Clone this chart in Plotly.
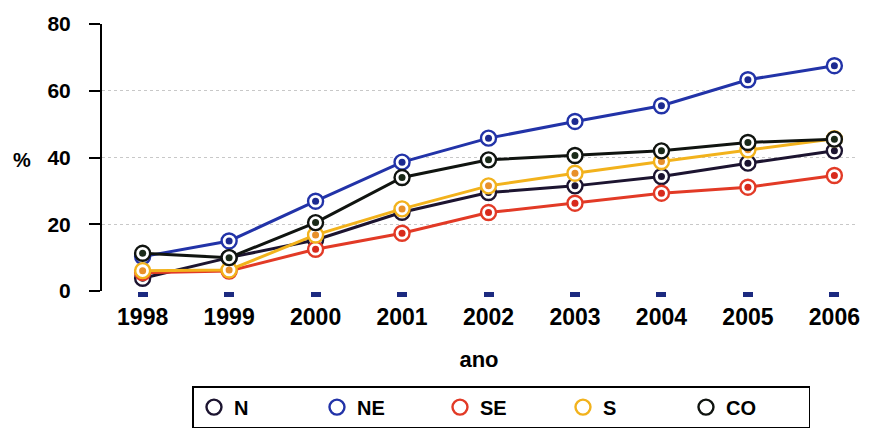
import plotly.graph_objects as go

anos = ["1998", "1999", "2000", "2001", "2002", "2003", "2004", "2005", "2006"]
serie_N = [3.8, 10.0, 15.3, 23.6, 29.5, 31.5, 34.3, 38.3, 42.0]
serie_NE = [10.3, 15.0, 26.9, 38.6, 45.8, 50.8, 55.5, 63.3, 67.5]
serie_SE = [5.5, 6.0, 12.5, 17.3, 23.5, 26.3, 29.3, 31.1, 34.6]
serie_S = [6.1, 6.3, 16.8, 24.6, 31.5, 35.3, 38.8, 42.3, 45.6]
serie_CO = [11.3, 10.0, 20.5, 34.0, 39.3, 40.6, 42.0, 44.5, 45.5]
y_ticks = [0, 20, 40, 60, 80]

series = [
    ("N", serie_N, "#1c1430", "#1c1430"),
    ("NE", serie_NE, "#2233a8", "#1c2a90"),
    ("SE", serie_SE, "#e23a26", "#d82a1c"),
    ("S", serie_S, "#f2b21c", "#e8902a"),
    ("CO", serie_CO, "#101410", "#1a2a18"),
]

FONT = "Arial, Liberation Sans, sans-serif"
fig = go.Figure()

for name, vals, lc, dc in series:
    fig.add_trace(go.Scatter(
        x=anos, y=vals, mode="lines", line=dict(color=lc, width=3),
        showlegend=False, hoverinfo="skip", cliponaxis=False))
    fig.add_trace(go.Scatter(
        x=anos, y=vals, mode="markers", name=name,
        marker=dict(symbol="circle", size=15, color="white",
                    line=dict(color=lc, width=2.4)),
        cliponaxis=False, showlegend=True))
    fig.add_trace(go.Scatter(
        x=anos, y=vals, mode="markers",
        marker=dict(symbol="circle", size=7, color=dc, line=dict(width=0)),
        showlegend=False, cliponaxis=False, hoverinfo="skip"))

fig.update_layout(
    width=871, height=429,
    margin=dict(l=102, r=11, t=24, b=138),
    paper_bgcolor="white", plot_bgcolor="white",
    font=dict(family=FONT, color="black"),
    xaxis=dict(
        type="category", categoryorder="array", categoryarray=anos,
        range=[-0.47, 8.25], showgrid=False, showline=False, zeroline=False,
        ticks="outside", ticklen=5, tickwidth=10, tickcolor="#1c2a80",
        tickfont=dict(size=23, family=FONT, weight="bold"),
        title=dict(text="ano", font=dict(size=22, family=FONT, weight="bold"), standoff=23),
    ),
    yaxis=dict(
        range=[0, 80], tickvals=y_ticks, showline=True, linecolor="black", linewidth=2,
        ticks="outside", ticklen=11, tickwidth=2, tickcolor="black",
        ticklabelstandoff=14,
        showgrid=True, gridcolor="#c8c8c8", griddash="dot", gridwidth=1,
        zeroline=False,
        tickfont=dict(size=21, family=FONT, weight="bold"),
    ),
    legend=dict(
        orientation="h", x=0.12, y=0.1, xanchor="left", yanchor="top",
        yref="container",
        bordercolor="black", borderwidth=1.5, bgcolor="white",
        font=dict(size=20, family=FONT, weight="bold"),
        entrywidth=78, entrywidthmode="pixels", itemwidth=30,
    ),
    annotations=[dict(
        text="%", xref="paper", yref="paper", x=-0.1055, y=0.49,
        xanchor="center", yanchor="middle", showarrow=False,
        font=dict(size=20, family=FONT, weight="bold"))],
)

fig.write_html("out.html", config={"displayModeBar": False},
               post_script="document.body.style.margin='0px';")
